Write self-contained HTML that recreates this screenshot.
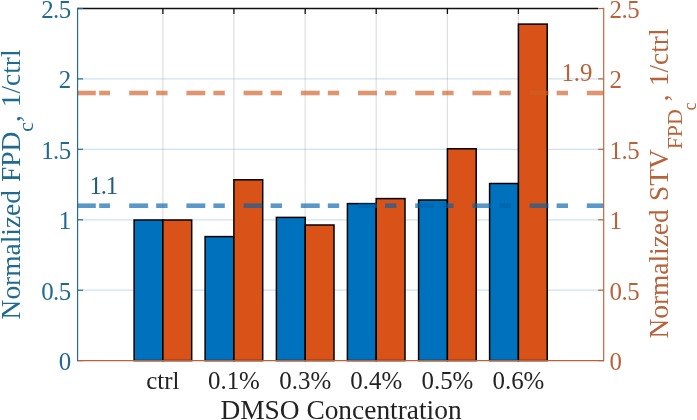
<!DOCTYPE html>
<html><head><meta charset="utf-8"><title>DMSO Concentration</title>
<style>html,body{margin:0;padding:0;background:#fff}svg{display:block}text{font-family:"Liberation Serif","Times New Roman",serif}</style></head><body>
<svg width="697" height="420" viewBox="0 0 697 420">
<rect width="697" height="420" fill="#fff"/>
<g stroke="#000" stroke-opacity="0.13" stroke-width="1.2">
<line x1="162.9" y1="8.5" x2="162.9" y2="360.6"/>
<line x1="233.9" y1="8.5" x2="233.9" y2="360.6"/>
<line x1="305.2" y1="8.5" x2="305.2" y2="360.6"/>
<line x1="376.2" y1="8.5" x2="376.2" y2="360.6"/>
<line x1="447.4" y1="8.5" x2="447.4" y2="360.6"/>
<line x1="518.4" y1="8.5" x2="518.4" y2="360.6"/>
</g>
<g stroke="#4a9cc7" stroke-opacity="0.28" stroke-width="1.2">
<line x1="77.6" y1="290.2" x2="603.7" y2="290.2"/>
<line x1="77.6" y1="219.8" x2="603.7" y2="219.8"/>
<line x1="77.6" y1="149.3" x2="603.7" y2="149.3"/>
<line x1="77.6" y1="78.9" x2="603.7" y2="78.9"/>
</g>
<g stroke="#111" stroke-width="1.3"><line x1="77.6" y1="8.5" x2="598.2" y2="8.5"/>
<line x1="162.9" y1="8.5" x2="162.9" y2="14.0"/>
<line x1="233.9" y1="8.5" x2="233.9" y2="14.0"/>
<line x1="305.2" y1="8.5" x2="305.2" y2="14.0"/>
<line x1="376.2" y1="8.5" x2="376.2" y2="14.0"/>
<line x1="447.4" y1="8.5" x2="447.4" y2="14.0"/>
<line x1="518.4" y1="8.5" x2="518.4" y2="14.0"/>
</g>
<g stroke="#000" stroke-width="1.5">
<rect x="134.1" y="220.0" width="28.8" height="140.6" fill="#0072bd"/>
<rect x="162.9" y="220.0" width="28.8" height="140.6" fill="#d95319"/>
<rect x="205.1" y="236.6" width="28.8" height="124.0" fill="#0072bd"/>
<rect x="233.9" y="179.8" width="28.8" height="180.8" fill="#d95319"/>
<rect x="276.4" y="217.4" width="28.8" height="143.2" fill="#0072bd"/>
<rect x="305.2" y="225.0" width="28.8" height="135.6" fill="#d95319"/>
<rect x="347.4" y="203.6" width="28.8" height="157.0" fill="#0072bd"/>
<rect x="376.2" y="198.6" width="28.8" height="162.0" fill="#d95319"/>
<rect x="418.6" y="200.0" width="28.8" height="160.6" fill="#0072bd"/>
<rect x="447.4" y="148.8" width="28.8" height="211.8" fill="#d95319"/>
<rect x="489.6" y="183.5" width="28.8" height="177.1" fill="#0072bd"/>
<rect x="518.4" y="24.1" width="28.8" height="336.5" fill="#d95319"/>
</g>
<g fill="#0061aa" fill-opacity="0.65">
<rect x="77.7" y="203.4" width="18.1" height="4.6"/>
<rect x="99.2" y="203.4" width="10.8" height="4.6"/>
<rect x="129.2" y="203.4" width="18.9" height="4.6"/>
<rect x="156.2" y="203.4" width="11.4" height="4.6"/>
<rect x="186.4" y="203.4" width="18.9" height="4.6"/>
<rect x="213.4" y="203.4" width="11.4" height="4.6"/>
<rect x="243.6" y="203.4" width="18.9" height="4.6"/>
<rect x="270.6" y="203.4" width="11.4" height="4.6"/>
<rect x="300.8" y="203.4" width="18.9" height="4.6"/>
<rect x="327.8" y="203.4" width="11.4" height="4.6"/>
<rect x="358.0" y="203.4" width="18.9" height="4.6"/>
<rect x="385.0" y="203.4" width="11.4" height="4.6"/>
<rect x="415.2" y="203.4" width="18.9" height="4.6"/>
<rect x="442.2" y="203.4" width="11.4" height="4.6"/>
<rect x="472.4" y="203.4" width="18.9" height="4.6"/>
<rect x="499.4" y="203.4" width="11.4" height="4.6"/>
<rect x="529.6" y="203.4" width="18.9" height="4.6"/>
<rect x="556.6" y="203.4" width="11.4" height="4.6"/>
<rect x="586.8" y="203.4" width="16.9" height="4.6"/>
</g>
<g fill="#cc5e23" fill-opacity="0.65">
<rect x="77.7" y="90.7" width="18.1" height="4.6"/>
<rect x="99.2" y="90.7" width="10.8" height="4.6"/>
<rect x="129.2" y="90.7" width="18.9" height="4.6"/>
<rect x="156.2" y="90.7" width="11.4" height="4.6"/>
<rect x="186.4" y="90.7" width="18.9" height="4.6"/>
<rect x="213.4" y="90.7" width="11.4" height="4.6"/>
<rect x="243.6" y="90.7" width="18.9" height="4.6"/>
<rect x="270.6" y="90.7" width="11.4" height="4.6"/>
<rect x="300.8" y="90.7" width="18.9" height="4.6"/>
<rect x="327.8" y="90.7" width="11.4" height="4.6"/>
<rect x="358.0" y="90.7" width="18.9" height="4.6"/>
<rect x="385.0" y="90.7" width="11.4" height="4.6"/>
<rect x="415.2" y="90.7" width="18.9" height="4.6"/>
<rect x="442.2" y="90.7" width="11.4" height="4.6"/>
<rect x="472.4" y="90.7" width="18.9" height="4.6"/>
<rect x="499.4" y="90.7" width="11.4" height="4.6"/>
<rect x="529.6" y="90.7" width="18.9" height="4.6"/>
<rect x="556.6" y="90.7" width="11.4" height="4.6"/>
<rect x="586.8" y="90.7" width="16.9" height="4.6"/>
</g>
<g stroke="#1f6a8e" stroke-width="1.15"><line x1="77.6" y1="7.85" x2="77.6" y2="361.25"/>
<line x1="77.6" y1="360.6" x2="83.1" y2="360.6"/>
<line x1="77.6" y1="290.2" x2="83.1" y2="290.2"/>
<line x1="77.6" y1="219.8" x2="83.1" y2="219.8"/>
<line x1="77.6" y1="149.3" x2="83.1" y2="149.3"/>
<line x1="77.6" y1="78.9" x2="83.1" y2="78.9"/>
<line x1="77.6" y1="8.5" x2="83.1" y2="8.5"/>
</g>
<g stroke="#b8623a" stroke-width="1.15"><line x1="78.25" y1="360.6" x2="603.7" y2="360.6"/><line x1="603.7" y1="7.85" x2="603.7" y2="361.25"/>
<line x1="603.7" y1="360.6" x2="598.2" y2="360.6"/>
<line x1="603.7" y1="290.2" x2="598.2" y2="290.2"/>
<line x1="603.7" y1="219.8" x2="598.2" y2="219.8"/>
<line x1="603.7" y1="149.3" x2="598.2" y2="149.3"/>
<line x1="603.7" y1="78.9" x2="598.2" y2="78.9"/>
<line x1="603.7" y1="8.5" x2="598.2" y2="8.5"/>
</g>
<g font-size="24.9" fill="#1f6a8e" text-anchor="end" letter-spacing="-0.6">
<text x="70.6" y="370.0">0</text>
<text x="70.6" y="299.6">0.5</text>
<text x="70.6" y="229.2">1</text>
<text x="70.6" y="158.7">1.5</text>
<text x="70.6" y="88.3">2</text>
<text x="70.6" y="17.9">2.5</text>
</g>
<g font-size="24.9" fill="#b8623a" letter-spacing="-0.5">
<text x="609.5" y="369.9">0</text>
<text x="609.5" y="299.5">0.5</text>
<text x="609.5" y="229.1">1</text>
<text x="609.5" y="158.6">1.5</text>
<text x="609.5" y="88.2">2</text>
<text x="609.5" y="17.8">2.5</text>
</g>
<g font-size="24.9" fill="#222" text-anchor="middle">
<text x="162.9" y="388.8">ctrl</text>
<text x="233.9" y="388.8">0.1%</text>
<text x="305.2" y="388.8">0.3%</text>
<text x="376.2" y="388.8">0.4%</text>
<text x="447.4" y="388.8">0.5%</text>
<text x="518.4" y="388.8">0.6%</text>
</g>
<text x="89.4" y="193.9" font-size="24.9" fill="#1f5f7e" letter-spacing="-1.2">1.1</text>
<text x="561.4" y="80.7" font-size="24.9" fill="#b8623a">1.9</text>
<text x="341" y="419.3" font-size="27.4" fill="#222" text-anchor="middle">DMSO Concentration</text>
<text transform="translate(20,184.4) rotate(-90)" font-size="27.4" fill="#1f6a8e" text-anchor="middle" word-spacing="1.2">Normalized FPD<tspan font-size="21.9" dy="13.3">c</tspan><tspan dy="-13.3">, 1/ctrl</tspan></text>
<text transform="translate(667.6,183.5) rotate(-90)" font-size="27.4" fill="#b8623a" text-anchor="middle" word-spacing="1.4">Normalized STV<tspan font-size="21.9" dy="14.4">FPD</tspan><tspan font-size="18.1" dy="14.2" dx="-1.4">c</tspan><tspan dy="-28.6" dx="1.2">, 1/ctrl</tspan></text>
</svg></body></html>
